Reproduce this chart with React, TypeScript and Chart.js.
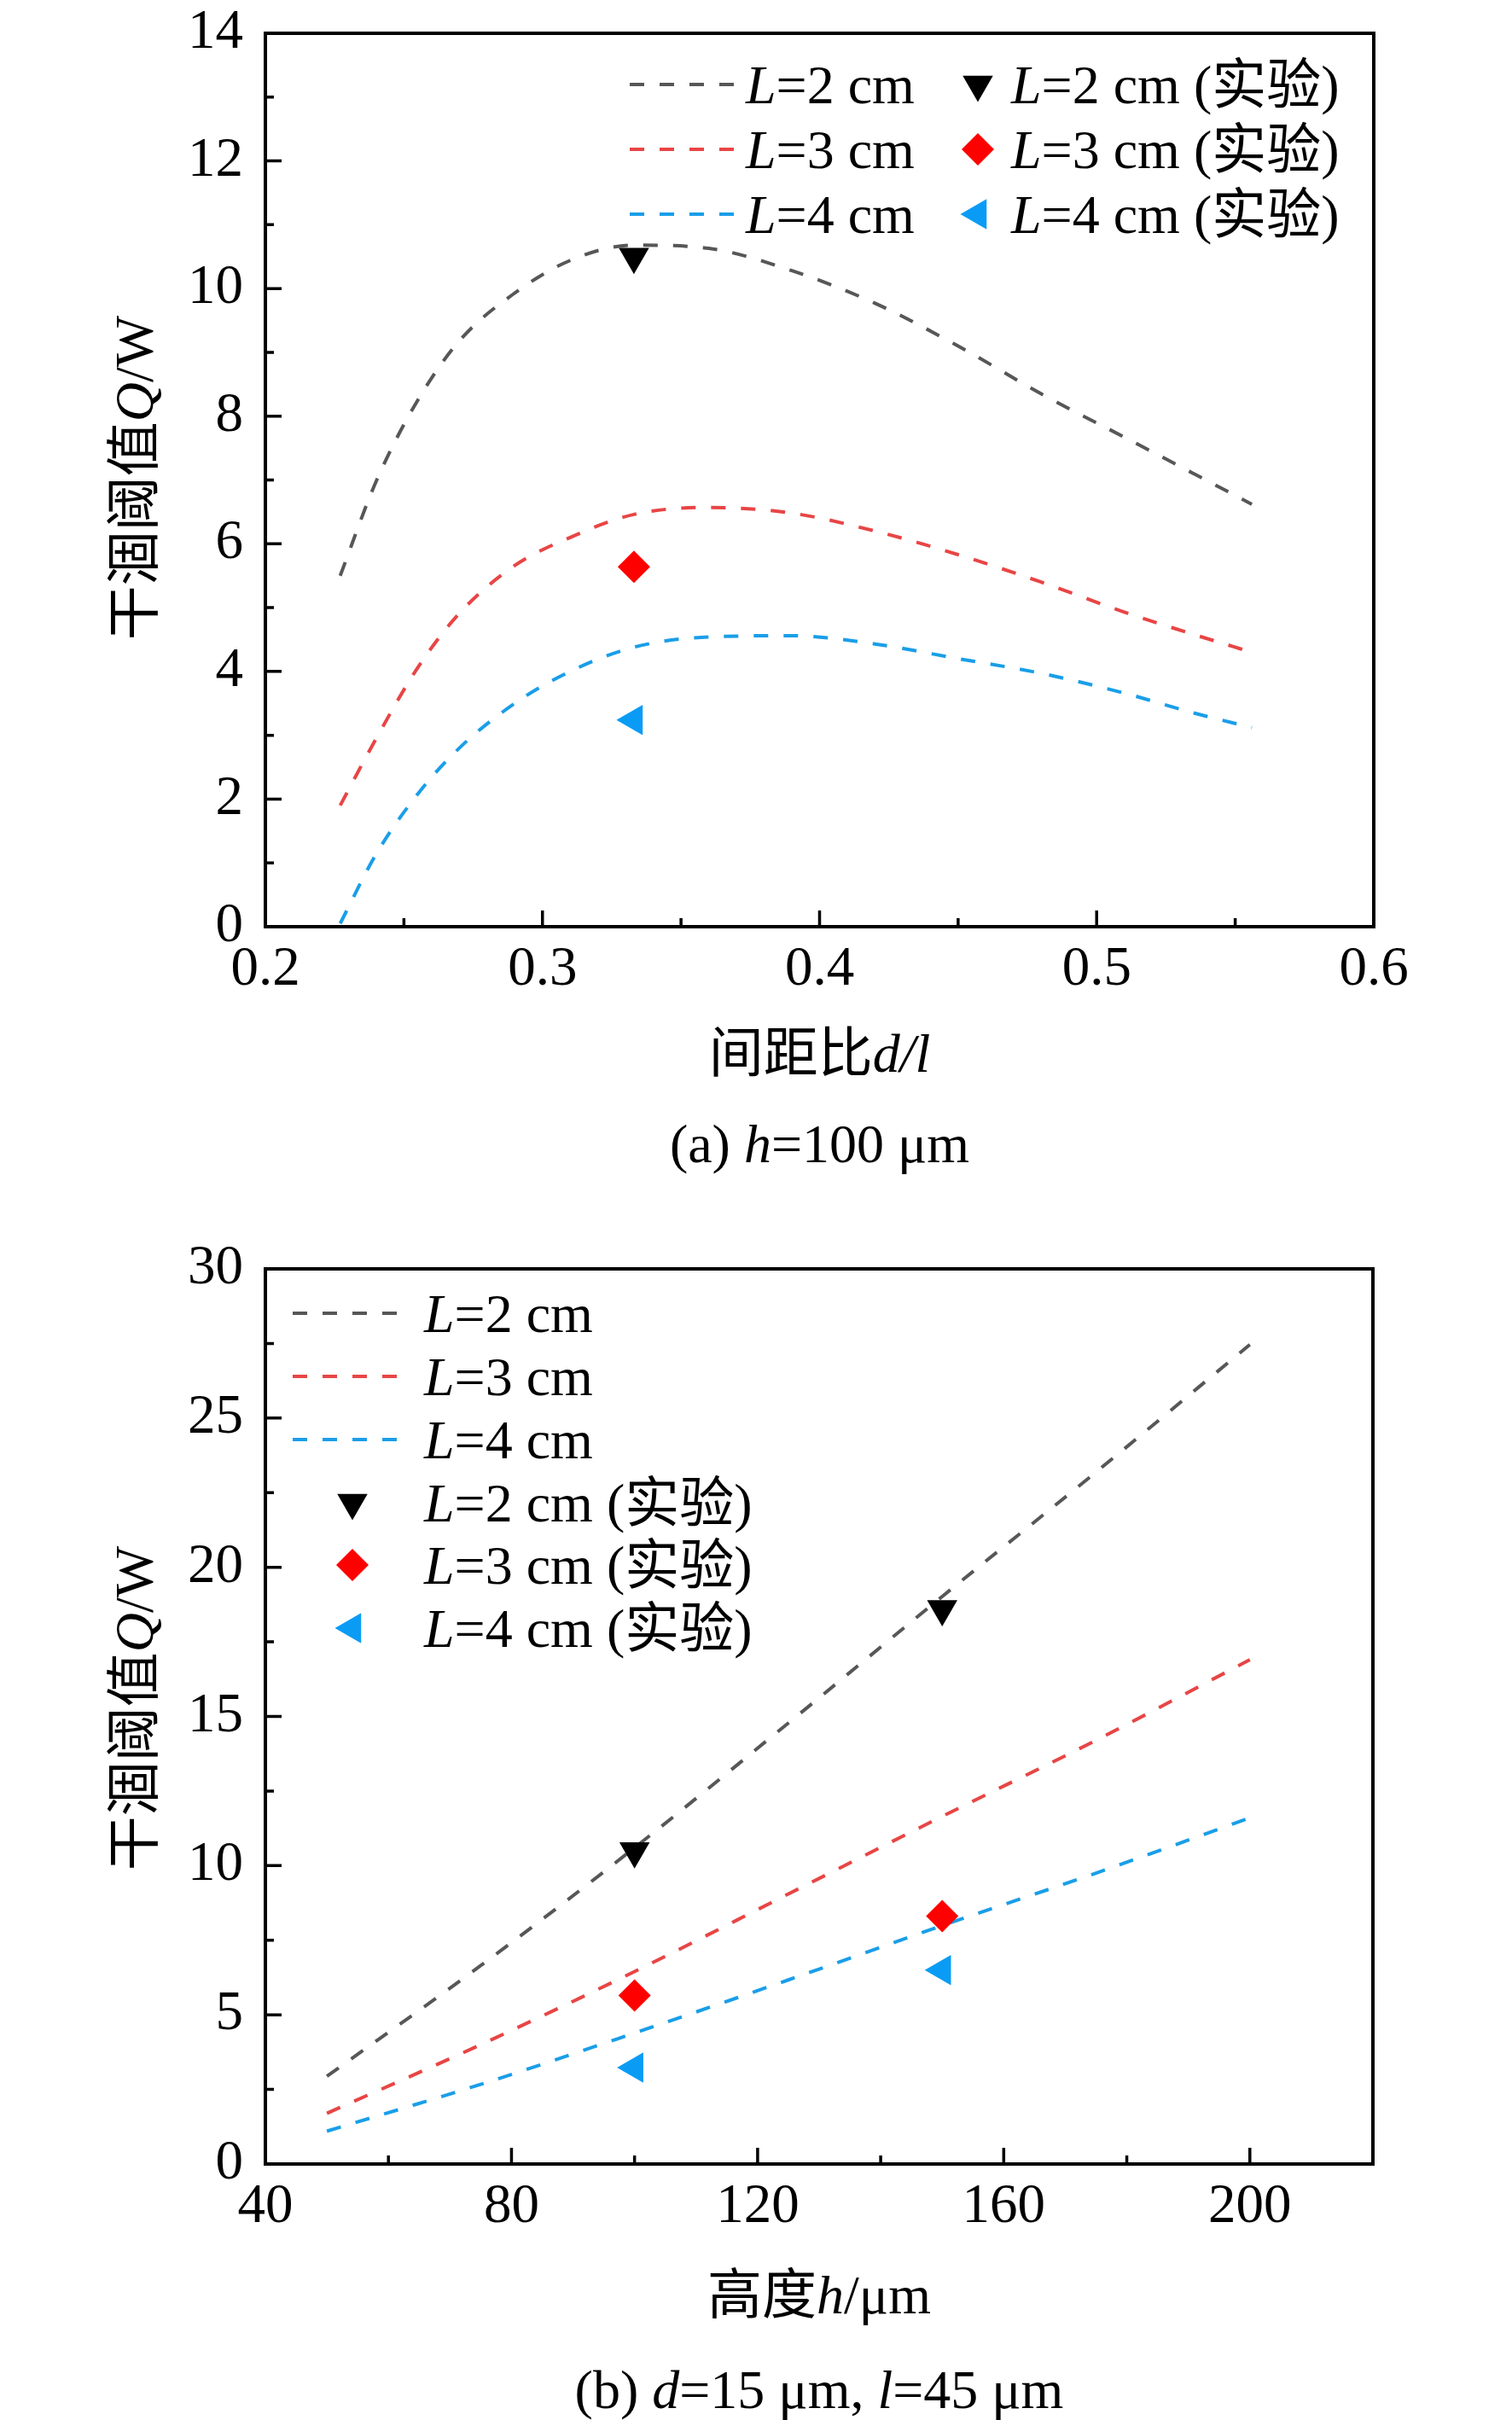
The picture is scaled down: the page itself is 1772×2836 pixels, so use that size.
import React, { useEffect, useRef } from "react";
import { Chart, registerables } from "chart.js";
import { drawPoint } from "chart.js/helpers";

Chart.register(...registerables);

const FONT = '"Liberation Serif", "Times New Roman", "Noto Sans CJK SC", serif';

// (a) h = 100 μm : threshold vs spacing ratio d/l
const ratioX = [0.227, 0.24, 0.255, 0.27, 0.29, 0.31, 0.333, 0.36, 0.39, 0.42, 0.45, 0.48, 0.51, 0.535, 0.556];
const ratioL2 = [5.5, 6.98, 8.25, 9.18, 9.93, 10.44, 10.68, 10.63, 10.28, 9.77, 9.1, 8.35, 7.67, 7.1, 6.62];
const ratioL3 = [1.9, 2.95, 4.06, 4.91, 5.66, 6.1, 6.46, 6.57, 6.48, 6.2, 5.83, 5.4, 4.93, 4.58, 4.3];
const ratioL4 = [0.05, 1.14, 2.08, 2.8, 3.5, 4.0, 4.38, 4.54, 4.56, 4.43, 4.2, 3.97, 3.66, 3.35, 3.12];
const ratioExpX = [0.333];
const ratioExpL2 = [10.5];
const ratioExpL3 = [5.64];
const ratioExpL4 = [3.24];
const ratioTicksX = [0.2, 0.3, 0.4, 0.5, 0.6];
const ratioTicksY = [0, 2, 4, 6, 8, 10, 12, 14];

// (b) d = 15 μm, l = 45 μm : threshold vs height h
const heightX = [50, 75, 100, 125, 150, 175, 200];
const heightL2 = [2.94, 6.65, 10.6, 14.78, 19.02, 23.19, 27.46];
const heightL3 = [1.7, 4.0, 6.45, 9.05, 11.65, 14.2, 16.9];
const heightL4 = [1.1, 2.67, 4.39, 6.17, 7.99, 9.75, 11.6];
const heightExpX = [100, 150];
const heightExpL2 = [10.49, 18.6];
const heightExpL3 = [5.65, 8.31];
const heightExpL4 = [3.23, 6.5];
const heightTicksX = [40, 80, 120, 160, 200];
const heightTicksY = [0, 5, 10, 15, 20, 25, 30];

const GRAY = "#575757";
const RED_LINE = "#e84545";
const BLUE_LINE = "#1a9ee8";
const RED_PT = "#ff0000";
const BLUE_PT = "#0a9cf5";

type Seg = { t: string; i?: boolean };

const L = (rest: string): Seg[] => [{ t: "L", i: true }, { t: rest }];

function drawRich(ctx: any, segs: Seg[], x: number, y: number, size: number, align: "left" | "center") {
  const fonts = segs.map((s) => `${s.i ? "italic " : ""}${size}px ${FONT}`);
  const widths = segs.map((s, k) => {
    ctx.font = fonts[k];
    return ctx.measureText(s.t).width;
  });
  const total = widths.reduce((a, b) => a + b, 0);
  let cx = align === "center" ? x - total / 2 : x;
  ctx.fillStyle = "#000";
  ctx.textAlign = "left";
  ctx.textBaseline = "alphabetic";
  const base = y + size * 0.34;
  segs.forEach((s, k) => {
    ctx.font = fonts[k];
    ctx.fillText(s.t, cx, base);
    cx += widths[k];
  });
}

const paperPlugin = {
  id: "paper",
  afterDraw(chart: any, _args: any, opts: any) {
    const { ctx, chartArea: a } = chart;
    const xs = chart.scales.x;
    const ys = chart.scales.y;
    const mids = (v: number[]) => v.slice(1).map((val, k) => (val + v[k]) / 2);
    const xt = xs.ticks.map((t: any) => t.value);
    const yt = ys.ticks.map((t: any) => t.value);
    ctx.save();
    ctx.setLineDash([]);
    ctx.strokeStyle = "#000";

    // inward major / minor ticks
    ctx.lineWidth = 3.5;
    ctx.beginPath();
    xt.forEach((v: number) => {
      const p = xs.getPixelForValue(v);
      ctx.moveTo(p, a.bottom);
      ctx.lineTo(p, a.bottom - 19);
    });
    mids(xt).forEach((v) => {
      const p = xs.getPixelForValue(v);
      ctx.moveTo(p, a.bottom);
      ctx.lineTo(p, a.bottom - 10);
    });
    yt.forEach((v: number) => {
      const p = ys.getPixelForValue(v);
      ctx.moveTo(a.left, p);
      ctx.lineTo(a.left + 19, p);
    });
    mids(yt).forEach((v) => {
      const p = ys.getPixelForValue(v);
      ctx.moveTo(a.left, p);
      ctx.lineTo(a.left + 10, p);
    });
    ctx.stroke();

    // frame
    ctx.lineWidth = 4;
    ctx.strokeRect(a.left, a.top, a.right - a.left, a.bottom - a.top);

    // legend inside the plot
    opts.legend.forEach((it: any) => {
      const ds = chart.data.datasets[it.ds];
      if (it.kind === "line") {
        ctx.strokeStyle = ds.borderColor;
        ctx.lineWidth = ds.borderWidth;
        ctx.setLineDash(ds.borderDash);
        ctx.beginPath();
        ctx.moveTo(it.x0, it.y);
        ctx.lineTo(it.x1, it.y);
        ctx.stroke();
        ctx.setLineDash([]);
      } else {
        ctx.fillStyle = ds.backgroundColor;
        drawPoint(
          ctx,
          { pointStyle: ds.pointStyle, rotation: ds.pointRotation, radius: ds.pointRadius, borderWidth: 0 } as any,
          it.x0,
          it.y
        );
      }
      drawRich(ctx, it.label, it.tx, it.y, 64, "left");
    });

    // axis titles and caption
    const cx = (a.left + a.right) / 2;
    drawRich(ctx, opts.xTitle, cx, opts.xTitleY, 64, "center");
    drawRich(ctx, opts.caption, cx, opts.captionY, 64, "center");
    ctx.translate(opts.yTitleX, opts.yTitleY);
    ctx.rotate(-Math.PI / 2);
    drawRich(ctx, opts.yTitle, 0, 0, 64, "center");
    ctx.restore();
  },
};

const lineSet = (label: string, xs: number[], ys: number[], color: string) => ({
  label,
  data: xs.map((x, k) => ({ x, y: ys[k] })),
  showLine: true,
  borderColor: color,
  borderWidth: 4,
  borderDash: [17, 18],
  pointRadius: 0,
  cubicInterpolationMode: "monotone",
  fill: false,
  order: 1,
});

const pointSet = (label: string, xs: number[], ys: number[], color: string, style: string, rot: number, r: number) => ({
  label,
  data: xs.map((x, k) => ({ x, y: ys[k] })),
  showLine: false,
  backgroundColor: color,
  borderWidth: 0,
  pointStyle: style,
  pointRotation: rot,
  pointRadius: r,
  pointBorderWidth: 0,
  order: 0,
});

const tickFont = { family: FONT, size: 65 };

function scalesFor(tx: number[], ty: number[], xMax: number, xHeight: number) {
  return {
    x: {
      type: "linear",
      min: tx[0],
      max: xMax,
      afterBuildTicks: (s: any) => {
        s.ticks = tx.map((v) => ({ value: v }));
      },
      afterFit: (s: any) => {
        s.height = xHeight;
        s.paddingLeft = 0;
        s.paddingRight = 0;
      },
      ticks: { font: tickFont, color: "#000", padding: 12, maxRotation: 0, autoSkip: false, callback: (v: any) => String(v) },
      grid: { display: false, drawTicks: false },
      border: { display: false },
    },
    y: {
      type: "linear",
      min: ty[0],
      max: ty[ty.length - 1],
      afterBuildTicks: (s: any) => {
        s.ticks = ty.map((v) => ({ value: v }));
      },
      afterFit: (s: any) => {
        s.width = 311;
        s.paddingTop = 0;
        s.paddingBottom = 0;
      },
      ticks: { font: tickFont, color: "#000", padding: 26, autoSkip: false, callback: (v: any) => String(v) },
      grid: { display: false, drawTicks: false },
      border: { display: false },
    },
  };
}

const yTitle: Seg[] = [{ t: "干涸阈值" }, { t: "Q", i: true }, { t: "/W" }];

function makeConfigA(): any {
  return {
    type: "scatter",
    data: {
      datasets: [
        lineSet("L=2 cm", ratioX, ratioL2, GRAY),
        lineSet("L=3 cm", ratioX, ratioL3, RED_LINE),
        lineSet("L=4 cm", ratioX, ratioL4, BLUE_LINE),
        pointSet("L=2 cm (实验)", ratioExpX, ratioExpL2, "#000000", "triangle", 180, 20.5),
        pointSet("L=3 cm (实验)", ratioExpX, ratioExpL3, RED_PT, "rectRot", 0, 19),
        pointSet("L=4 cm (实验)", ratioExpX, ratioExpL4, BLUE_PT, "triangle", -90, 20.5),
      ],
    },
    options: {
      animation: false,
      responsive: true,
      maintainAspectRatio: false,
      events: [],
      layout: { padding: { top: 39, right: 162, left: 0, bottom: 0 } },
      scales: scalesFor(ratioTicksX, ratioTicksY, 0.6, 334),
      plugins: {
        legend: { display: false },
        tooltip: { enabled: false },
        paper: {
          legend: [
            { kind: "line", ds: 0, x0: 738, x1: 864, y: 99, tx: 874, label: L("=2 cm") },
            { kind: "line", ds: 1, x0: 738, x1: 864, y: 175, tx: 874, label: L("=3 cm") },
            { kind: "line", ds: 2, x0: 738, x1: 864, y: 251, tx: 874, label: L("=4 cm") },
            { kind: "point", ds: 3, x0: 1146, y: 99, tx: 1185, label: L("=2 cm (实验)") },
            { kind: "point", ds: 4, x0: 1146, y: 175, tx: 1185, label: L("=3 cm (实验)") },
            { kind: "point", ds: 5, x0: 1146, y: 251, tx: 1185, label: L("=4 cm (实验)") },
          ],
          xTitle: [{ t: "间距比" }, { t: "d/l", i: true }],
          xTitleY: 1234,
          caption: [{ t: "(a) " }, { t: "h", i: true }, { t: "=100 μm" }],
          captionY: 1340,
          yTitle,
          yTitleX: 157,
          yTitleY: 560,
        },
      },
    },
    plugins: [paperPlugin],
  };
}

function makeConfigB(): any {
  return {
    type: "scatter",
    data: {
      datasets: [
        lineSet("L=2 cm", heightX, heightL2, GRAY),
        lineSet("L=3 cm", heightX, heightL3, RED_LINE),
        lineSet("L=4 cm", heightX, heightL4, BLUE_LINE),
        pointSet("L=2 cm (实验)", heightExpX, heightExpL2, "#000000", "triangle", 180, 20.5),
        pointSet("L=3 cm (实验)", heightExpX, heightExpL3, RED_PT, "rectRot", 0, 19),
        pointSet("L=4 cm (实验)", heightExpX, heightExpL4, BLUE_PT, "triangle", -90, 20.5),
      ],
    },
    options: {
      animation: false,
      responsive: true,
      maintainAspectRatio: false,
      events: [],
      layout: { padding: { top: 67, right: 163, left: 0, bottom: 0 } },
      scales: scalesFor(heightTicksX, heightTicksY, 220, 300),
      plugins: {
        legend: { display: false },
        tooltip: { enabled: false },
        paper: {
          legend: [
            { kind: "line", ds: 0, x0: 343, x1: 472, y: 119, tx: 497, label: L("=2 cm") },
            { kind: "line", ds: 1, x0: 343, x1: 472, y: 193, tx: 497, label: L("=3 cm") },
            { kind: "line", ds: 2, x0: 343, x1: 472, y: 267, tx: 497, label: L("=4 cm") },
            { kind: "point", ds: 3, x0: 413, y: 341, tx: 497, label: L("=2 cm (实验)") },
            { kind: "point", ds: 4, x0: 413, y: 414, tx: 497, label: L("=3 cm (实验)") },
            { kind: "point", ds: 5, x0: 413, y: 488, tx: 497, label: L("=4 cm (实验)") },
          ],
          xTitle: [{ t: "高度" }, { t: "h", i: true }, { t: "/μm" }],
          xTitleY: 1269,
          caption: [{ t: "(b) " }, { t: "d", i: true }, { t: "=15 μm, " }, { t: "l", i: true }, { t: "=45 μm" }],
          captionY: 1380,
          yTitle,
          yTitleX: 157,
          yTitleY: 582,
        },
      },
    },
    plugins: [paperPlugin],
  };
}

const ChartPanel = ({ top, height, make }: { top: number; height: number; make: () => any }) => {
  const canvasRef = useRef<any>(null);
  const chartRef = useRef<any>(null);

  useEffect(() => {
    const ctx = canvasRef.current.getContext("2d");
    if (chartRef.current) {
      chartRef.current.destroy();
    }
    chartRef.current = new Chart(ctx, make());
    return () => {
      if (chartRef.current) {
        chartRef.current.destroy();
        chartRef.current = null;
      }
    };
  }, [make]);

  return (
    <div style={{ position: "absolute", left: 0, top, width: 1772, height }}>
      <canvas ref={canvasRef} />
    </div>
  );
};

export default function App() {
  return (
    <div style={{ position: "absolute", left: 0, top: 0, width: 1772, height: 2836, background: "#fff", overflow: "hidden" }}>
      <ChartPanel top={0} height={1420} make={makeConfigA} />
      <ChartPanel top={1420} height={1416} make={makeConfigB} />
    </div>
  );
}
